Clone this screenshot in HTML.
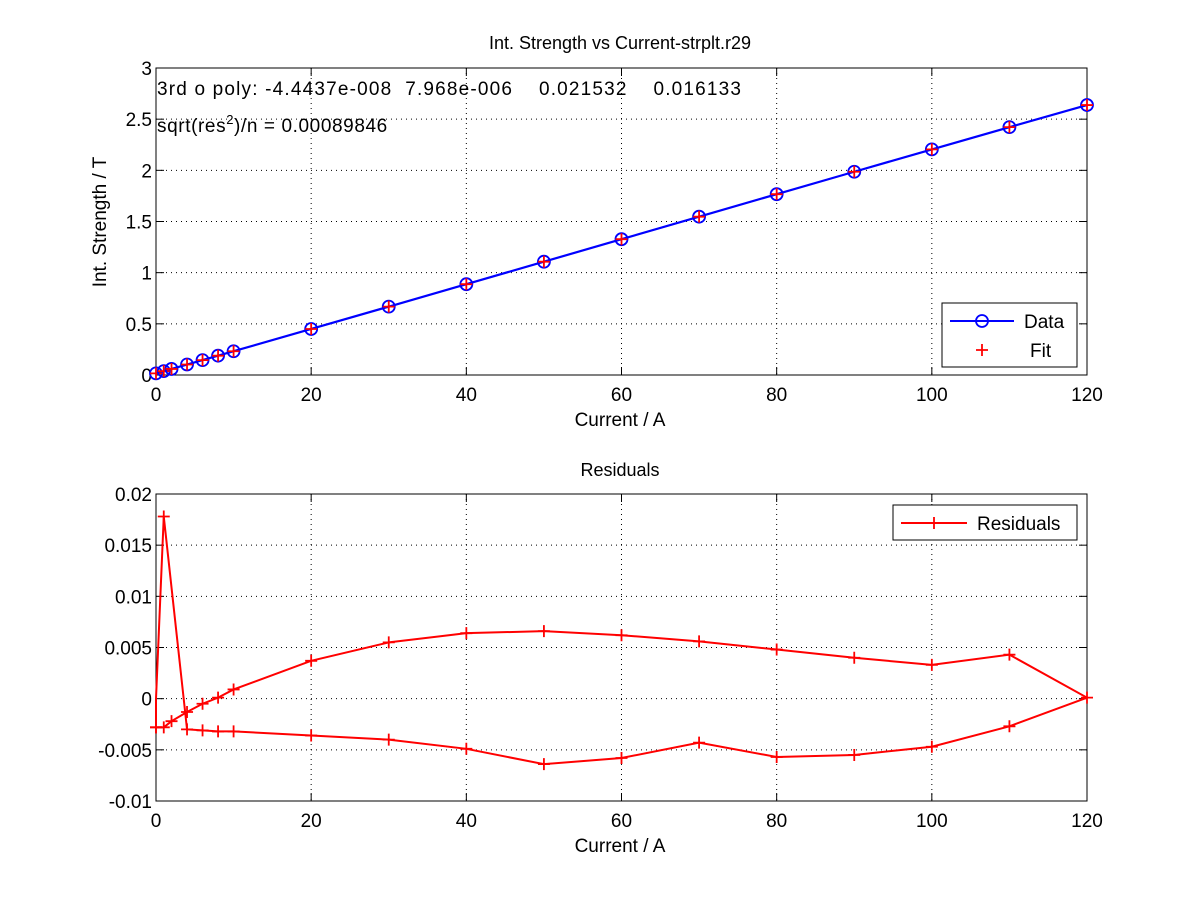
<!DOCTYPE html>
<html><head><meta charset="utf-8"><style>
body{margin:0;background:#fff}
svg{display:block}
text{font-family:"Liberation Sans",Arial,sans-serif;fill:#000}
</style></head><body>
<svg id="s" width="1200" height="900" xmlns="http://www.w3.org/2000/svg">
<rect width="1200" height="900" fill="#fff"/>
<g id="g"></g>
</svg>
<script>
const NS="http://www.w3.org/2000/svg";
const g=document.getElementById('g');
function el(t,a,txt){const e=document.createElementNS(NS,t);for(const k in a)e.setAttribute(k,a[k]);if(txt!==undefined)e.textContent=txt;g.appendChild(e);return e;}
const L=156,R=1087;
const X=v=>L+v*(R-L)/120;
function axes(top,bot,ymin,ymax,yticks,ylab){
  const Y=v=>bot-(v-ymin)*(bot-top)/(ymax-ymin);
  for(let x=0;x<=120;x+=20){
    if(x>0&&x<120)el('line',{x1:X(x),x2:X(x),y1:top,y2:bot,stroke:'#000','stroke-width':1,'stroke-dasharray':'1,4'});
    el('line',{x1:X(x),x2:X(x),y1:bot,y2:bot-8,stroke:'#000'});
    el('line',{x1:X(x),x2:X(x),y1:top,y2:top+8,stroke:'#000'});
    el('text',{x:X(x),y:bot+26,'text-anchor':'middle','font-size':19},String(x));
  }
  yticks.forEach(v=>{const y=Y(v);
    if(Math.abs(y-top)>1&&Math.abs(y-bot)>1)el('line',{x1:L,x2:R,y1:y,y2:y,stroke:'#000','stroke-width':1,'stroke-dasharray':'1,4'});
    el('line',{x1:L,x2:L+8,y1:y,y2:y,stroke:'#000'});
    el('line',{x1:R,x2:R-8,y1:y,y2:y,stroke:'#000'});
    el('text',{x:L-4,y:y+7,'text-anchor':'end','font-size':19},ylab(v));
  });
  el('rect',{x:L,y:top,width:R-L,height:bot-top,fill:'none',stroke:'#000'});
  return Y;
}
const xs=[0,1,2,4,6,8,10,20,30,40,50,60,70,80,90,100,110,120];
const Yt=axes(68,375,0,3,[0,0.5,1,1.5,2,2.5,3],v=>String(v));
const f=x=>0.016133+0.021532*x+7.968e-6*x*x-4.4437e-8*x*x*x;
let p=xs.map(x=>X(x)+','+Yt(f(x))).join(' ');
el('polyline',{points:p,fill:'none',stroke:'#0000ff','stroke-width':2.2});
xs.forEach(x=>{const cx=X(x),cy=Yt(f(x));
  el('circle',{cx,cy,r:6,fill:'none',stroke:'#0000ff','stroke-width':1.8});
  el('path',{d:`M${cx-6} ${cy}h12M${cx} ${cy-6}v12`,stroke:'#ff0000','stroke-width':1.8});
});
el('text',{x:620,y:49,'text-anchor':'middle','font-size':18},'Int. Strength vs Current-strplt.r29');
el('text',{x:620,y:426,'text-anchor':'middle','font-size':19},'Current / A');
el('text',{x:0,y:0,'text-anchor':'middle','font-size':19,transform:'translate(106,222) rotate(-90)'},'Int. Strength / T');
el('text',{x:157,y:95,'font-size':19,style:'white-space:pre',textLength:584,lengthAdjust:'spacing'},'3rd o poly: -4.4437e-008  7.968e-006    0.021532    0.016133');
const t=el('text',{x:157,y:132,'font-size':19,'letter-spacing':0.6});
t.innerHTML='sqrt(res<tspan dy="-8" font-size="13">2</tspan><tspan dy="8">)/n = 0.00089846</tspan>';
el('rect',{x:942,y:303,width:135,height:64,fill:'#fff',stroke:'#000'});
el('line',{x1:950,x2:1014,y1:321,y2:321,stroke:'#0000ff','stroke-width':2});
el('circle',{cx:982,cy:321,r:6,fill:'none',stroke:'#0000ff','stroke-width':1.8});
el('path',{d:'M976 350h12M982 344v12',stroke:'#ff0000','stroke-width':1.8});
el('text',{x:1024,y:328,'font-size':19},'Data');
el('text',{x:1030,y:357,'font-size':19},'Fit');
const Yb=axes(494,801,-0.01,0.02,[-0.01,-0.005,0,0.005,0.01,0.015,0.02],v=>String(v));
const up=[-0.0028,-0.0028,-0.0022,-0.0013,-0.0005,0.0001,0.0009,0.0037,0.0055,0.0064,0.0066,0.0062,0.0056,0.0048,0.0040,0.0033,0.0043,0.0001];
const dn=[[110,-0.0027],[100,-0.0047],[90,-0.0055],[80,-0.0057],[70,-0.0043],[60,-0.0058],[50,-0.0064],[40,-0.0049],[30,-0.0040],[20,-0.0036],[10,-0.0032],[8,-0.0032],[6,-0.0031],[4,-0.0030],[1,0.0178],[0,0.0],[0,-0.0028]];
let pts=xs.map((x,i)=>[x,up[i]]).concat(dn);
el('polyline',{points:pts.map(q=>X(q[0])+','+Yb(q[1])).join(' '),fill:'none',stroke:'#ff0000','stroke-width':2});
pts.forEach(q=>{if(q[1]===0&&q[0]===0)return;const cx=X(q[0]),cy=Yb(q[1]);
  el('path',{d:`M${cx-6} ${cy}h12M${cx} ${cy-6}v12`,stroke:'#ff0000','stroke-width':1.8});});
el('text',{x:620,y:476,'text-anchor':'middle','font-size':18},'Residuals');
el('text',{x:620,y:852,'text-anchor':'middle','font-size':19},'Current / A');
el('rect',{x:893,y:505,width:184,height:35,fill:'#fff',stroke:'#000'});
el('line',{x1:901,x2:967,y1:523,y2:523,stroke:'#ff0000','stroke-width':2});
el('path',{d:'M928 523h12M934 517v12',stroke:'#ff0000','stroke-width':1.8});
el('text',{x:977,y:530,'font-size':19},'Residuals');
</script>
</body></html>
